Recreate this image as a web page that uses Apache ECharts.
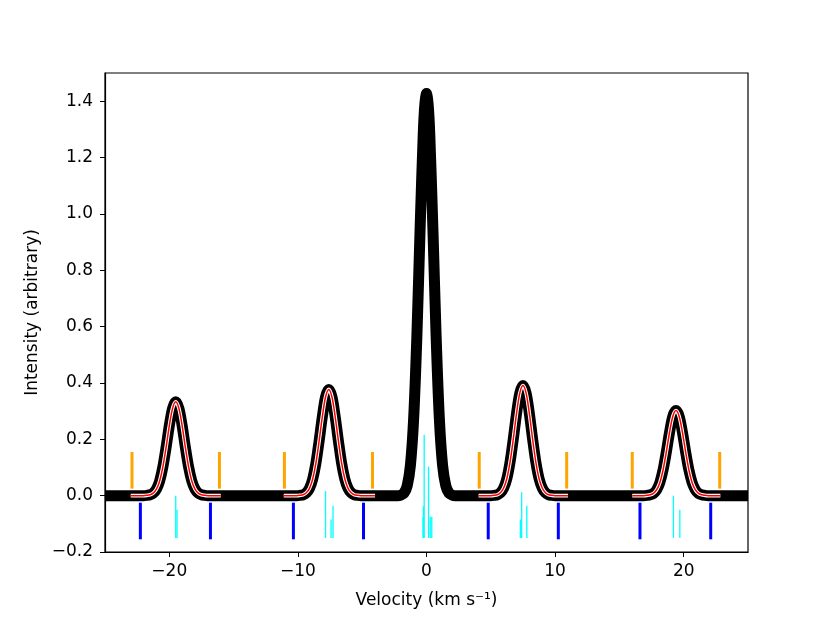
<!DOCTYPE html>
<html>
<head>
<meta charset="utf-8">
<title>Velocity spectrum</title>
<script src="https://cdn.jsdelivr.net/npm/echarts@6/dist/echarts.min.js"></script>
<style>
  html, body { margin: 0; padding: 0; background: #fff; }
  #chart { width: 830px; height: 622px; }
</style>
</head>
<body>
<div id="chart"></div>
<script>
// black spectrum (km/s, intensity)
const velocity = [
  -25,
  -22, -21.75, -21.5, -21.25, -21, -20.75, -20.5, -20.25, -20, -19.75, -19.5,
  -19.25, -19, -18.75, -18.5, -18.25, -18, -17.75, -17.5, -17.25, -17,
  -10.1, -9.85, -9.6, -9.35, -9.1, -8.85, -8.6, -8.35, -8.1, -7.85, -7.6,
  -7.35, -7.1, -6.85, -6.6, -6.35, -6.1, -5.85, -5.6, -5.35, -5.1,
  -2.25, -2, -1.75, -1.5, -1.25, -1, -0.75, -0.5, -0.25, -0.125, 0,
  0.125, 0.25, 0.5, 0.75, 1, 1.25, 1.5, 1.75, 2, 2.25,
  5, 5.25, 5.5, 5.75, 6, 6.25, 6.5, 6.75, 7, 7.25, 7.5,
  7.75, 8, 8.25, 8.5, 8.75, 9, 9.25, 9.5, 9.75, 10,
  16.9, 17.15, 17.4, 17.65, 17.9, 18.15, 18.4, 18.65, 18.9, 19.15, 19.4,
  19.65, 19.9, 20.15, 20.4, 20.65, 20.9, 21.15, 21.4, 21.65, 21.9,
  25
];
const intensity = [
  0,
  0.000, 0.001, 0.003, 0.009, 0.023, 0.052, 0.102, 0.171, 0.248, 0.309, 0.333,
  0.309, 0.248, 0.171, 0.102, 0.052, 0.023, 0.009, 0.003, 0.001, 0.000,
  0.000, 0.001, 0.003, 0.010, 0.026, 0.059, 0.115, 0.194, 0.280, 0.350, 0.377,
  0.350, 0.280, 0.194, 0.115, 0.059, 0.026, 0.010, 0.003, 0.001, 0.000,
  0.000, 0.002, 0.009, 0.035, 0.108, 0.273, 0.563, 0.944, 1.287, 1.390, 1.427,
  1.390, 1.287, 0.944, 0.563, 0.273, 0.108, 0.035, 0.009, 0.002, 0.000,
  0.000, 0.001, 0.003, 0.010, 0.027, 0.061, 0.120, 0.201, 0.291, 0.363, 0.391,
  0.363, 0.291, 0.201, 0.120, 0.061, 0.027, 0.010, 0.003, 0.001, 0.000,
  0.000, 0.001, 0.003, 0.008, 0.021, 0.047, 0.092, 0.155, 0.225, 0.281, 0.302,
  0.281, 0.225, 0.155, 0.092, 0.047, 0.021, 0.008, 0.003, 0.001, 0.000,
  0
];

// satellite group fits (red) run between these velocities
const fitLo = [-23.0, -11.1, 4.05, 16.0];
const fitHi = [-16.0, -4.0, 11.0, 22.85];

// orange markers above, blue markers below
const orangeVel = [-22.9, -16.1, -11.05, -4.2, 4.1, 10.9, 16.0, 22.8];
const orangeLo = 0.025, orangeHi = 0.155;
const blueVel = [-22.25, -16.8, -10.35, -4.9, 4.8, 10.25, 16.6, 22.1];
const blueLo = -0.155, blueHi = -0.025;

// hyperfine components (cyan), drawn up from -0.15
const compVel = [-19.5, -19.4, -7.85, -7.42, -7.27, -0.27, -0.24, -0.18, 0.16, 0.29, 0.41, 7.3, 7.4, 7.8, 19.2, 19.7];
const compTop = [0.0, -0.05, 0.016, -0.085, -0.036, -0.077, -0.038, 0.216, 0.103, -0.075, -0.075, -0.085, 0.012, -0.036, 0.0, -0.05];
const compBase = -0.15;

const xTicks = [-20, -10, 0, 10, 20];
const yTicks = [-0.2, 0.0, 0.2, 0.4, 0.6, 0.8, 1.0, 1.2, 1.4];

const font = 'DejaVu Sans';
const minus = v => String(v).replace('-', '\u2212');

const spectrum = velocity.map((v, i) => [v, intensity[i]]);

function vbar(color, width) {
  return function (params, api) {
    const p1 = api.coord([api.value(0), api.value(1)]);
    const p2 = api.coord([api.value(0), api.value(2)]);
    return {
      type: 'line',
      shape: { x1: p1[0], y1: p1[1], x2: p2[0], y2: p2[1] },
      style: { stroke: color, lineWidth: width }
    };
  };
}

const series = [
  {
    type: 'line',
    data: spectrum,
    showSymbol: false,
    smooth: 0.3,
    clip: true,
    lineStyle: { color: '#000', width: 11, join: 'round', cap: 'butt' },
    z: 2,
    silent: true
  }
];

fitLo.forEach((lo, g) => {
  const hi = fitHi[g];
  const seg = [[lo, 0]].concat(spectrum.filter(p => p[0] > lo && p[0] < hi), [[hi, 0]]);
  series.push({
    type: 'line', data: seg, showSymbol: false, smooth: 0.3, z: 3, silent: true,
    lineStyle: { color: '#fff', width: 3.6, cap: 'butt' }
  });
  series.push({
    type: 'line', data: seg, showSymbol: false, smooth: 0.3, z: 4, silent: true,
    lineStyle: { color: '#ff0000', width: 1.5, cap: 'butt' }
  });
});

series.push({
  type: 'custom',
  renderItem: vbar('#ffa500', 3),
  data: orangeVel.map(v => [v, orangeLo, orangeHi]),
  encode: { x: 0, y: [1, 2] },
  z: 5, silent: true
});
series.push({
  type: 'custom',
  renderItem: vbar('#0000ff', 3),
  data: blueVel.map(v => [v, blueLo, blueHi]),
  encode: { x: 0, y: [1, 2] },
  z: 5, silent: true
});
series.push({
  type: 'custom',
  renderItem: vbar('#00ffff', 1.3),
  data: compVel.map((v, i) => [v, compBase, compTop[i]]),
  encode: { x: 0, y: [1, 2] },
  z: 5, silent: true
});

const chart = echarts.init(document.getElementById('chart'));

const option = {
  animation: false,
  backgroundColor: '#fff',
  grid: {
    left: 105, right: 82, top: 73, bottom: 70,
    show: true, borderColor: '#000', borderWidth: 1.2, containLabel: false
  },
  xAxis: {
    type: 'value',
    min: -25, max: 25,
    name: 'Velocity (km s\u207B\u00B9)',
    nameLocation: 'middle',
    nameGap: 40,
    nameTextStyle: { fontFamily: font, fontSize: 17, color: '#000' },
    axisLine: { show: true, onZero: false, lineStyle: { color: '#000', width: 1.2 } },
    axisTick: { show: true, inside: false, length: 5, customValues: xTicks, lineStyle: { color: '#000', width: 1 } },
    axisLabel: { customValues: xTicks, margin: 11, fontFamily: font, fontSize: 17, color: '#000', formatter: v => minus(v) },
    splitLine: { show: false }
  },
  yAxis: {
    type: 'value',
    min: -0.2, max: 1.5,
    name: 'Intensity (arbitrary)',
    nameLocation: 'middle',
    nameGap: 63,
    nameTextStyle: { fontFamily: font, fontSize: 17, color: '#000' },
    axisLine: { show: true, onZero: false, lineStyle: { color: '#000', width: 1.2 } },
    axisTick: { show: true, inside: false, length: 5, customValues: yTicks, lineStyle: { color: '#000', width: 1 } },
    axisLabel: { customValues: yTicks, margin: 12, fontFamily: font, fontSize: 17, color: '#000', formatter: v => minus(v.toFixed(1)) },
    splitLine: { show: false }
  },
  series: series
};

chart.setOption(option);
</script>
</body>
</html>
